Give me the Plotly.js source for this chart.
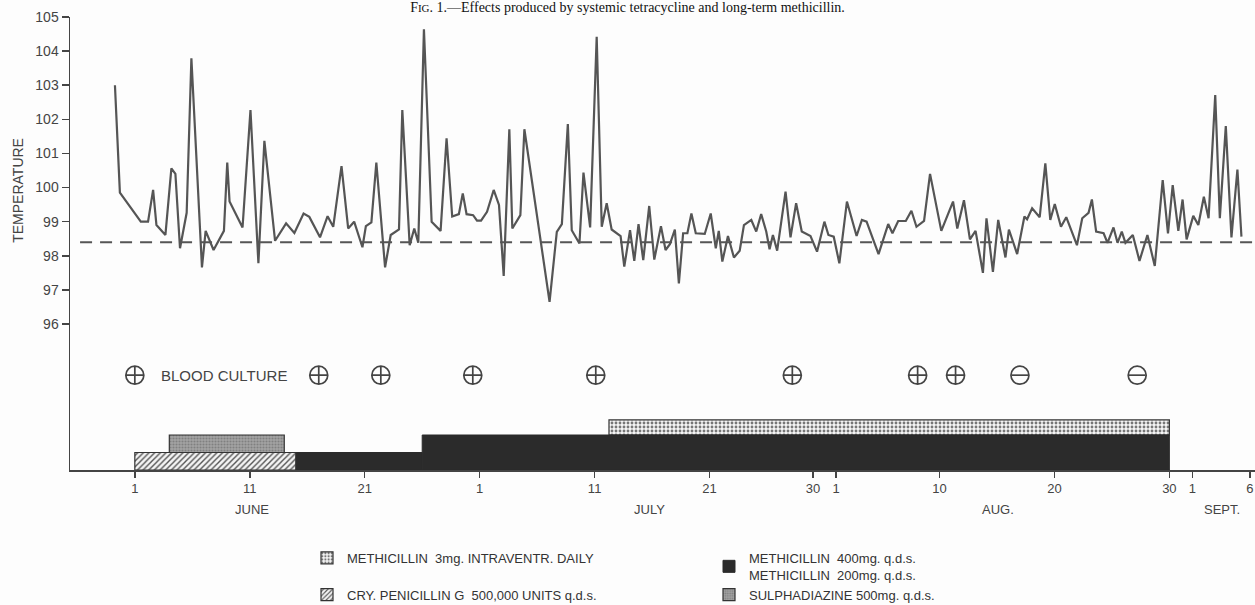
<!DOCTYPE html>
<html>
<head>
<meta charset="utf-8">
<script src="https://cdn.plot.ly/plotly-3.0.1.min.js"></script>
<style>html,body{margin:0;padding:0;background:#fdfdfd;}#chart{width:1255px;height:605px;}</style>
</head>
<body>
<div id="chart"></div>
<script>
// ---- DATA ----
// day number counted from 1 June (= 1); 1 July = 31, 1 Aug = 62, 1 Sept = 93
const days = [-0.73,-0.30,1.52,2.15,2.59,2.88,3.66,4.18,4.53,4.93,5.51,5.92,6.84,7.16,7.85,8.75,9.04,9.24,10.37,11.06,11.75,12.27,13.20,14.16,14.88,15.68,16.18,17.11,17.77,18.26,18.98,19.56,20.08,20.80,21.10,21.58,22.01,22.77,23.26,23.98,24.27,24.91,25.31,25.66,26.15,26.82,27.60,28.12,28.61,29.19,29.53,29.86,30.43,30.77,31.12,31.64,32.22,32.68,33.09,33.58,33.84,34.54,34.89,37.08,37.71,38.15,38.67,39.01,39.68,40.03,40.61,41.18,41.62,42.05,42.48,43.26,43.58,44.08,44.45,44.82,45.23,45.75,46.19,46.77,47.17,47.55,47.98,48.33,48.70,49.07,49.42,49.80,50.58,51.10,51.54,51.80,52.11,52.60,53.12,53.62,53.99,54.63,55.06,55.49,55.93,56.22,56.51,56.88,57.61,58.04,58.53,59.02,59.78,60.35,60.99,61.34,61.80,62.29,62.95,63.79,64.25,64.66,65.70,66.54,66.91,67.41,68.07,68.56,69.00,69.66,70.18,71.16,72.18,72.55,73.13,73.65,74.14,74.78,75.09,75.65,76.11,76.74,77.04,77.76,78.39,78.62,79.06,79.72,80.21,80.64,81.03,81.57,82.03,82.96,83.42,83.97,84.26,84.63,85.28,85.62,86.14,86.49,86.86,87.18,87.82,88.40,89.09,89.73,90.42,90.88,91.29,91.78,92.15,92.50,93.08,93.52,94.00,94.41,94.99,95.39,95.91,96.40,96.92,97.27];
const temperature = [103.0,99.85,99.0,99.0,99.93,98.9,98.61,100.56,100.4,98.22,99.26,103.79,97.66,98.73,98.17,98.73,100.73,99.59,98.83,102.27,97.78,101.37,98.44,98.95,98.67,99.24,99.14,98.54,99.16,98.85,100.63,98.8,99.0,98.25,98.87,98.98,100.73,97.66,98.61,98.77,102.27,98.31,98.8,98.38,104.64,99.0,98.73,101.44,99.15,99.22,99.83,99.22,99.19,99.03,99.03,99.29,99.93,99.49,97.41,101.71,98.8,99.19,101.71,96.65,98.7,98.93,101.86,98.75,98.36,100.44,98.83,104.42,98.85,99.54,98.77,98.58,97.68,98.75,97.85,98.93,97.87,99.46,97.89,98.87,98.17,98.34,98.77,97.19,98.66,98.66,99.24,98.66,98.64,99.24,98.22,98.73,97.83,98.58,97.95,98.15,98.90,99.05,98.71,99.22,98.71,98.19,98.61,98.15,99.88,98.54,99.54,98.71,98.58,98.12,99.0,98.61,98.56,97.78,99.59,98.58,99.05,99.0,98.05,98.93,98.66,99.02,99.02,99.32,98.85,99.02,100.40,98.73,99.59,98.80,99.63,98.48,98.73,97.5,99.1,97.53,99.05,97.95,98.77,98.05,99.15,99.07,99.39,99.13,100.71,99.05,99.52,98.85,99.13,98.31,99.1,99.26,99.65,98.71,98.66,98.38,98.83,98.38,98.71,98.38,98.61,97.85,98.61,97.7,100.22,98.66,100.07,98.73,99.65,98.48,99.17,98.90,99.73,99.1,102.71,99.1,101.8,98.54,100.53,98.56];
const normalTemperature = 98.4;

const cultureDays = [1, 17, 22.4, 30.4, 41.1, 58.2, 69.1, 72.4, 78, 88.2];
const cultureResults = ['+','+','+','+','+','+','+','+','-','-'];

const tickDays = [1, 11, 21, 31, 41, 51, 60, 62, 71, 81, 91, 93, 98];
const tickLabels = ['1','11','21','1','11','21','30','1','10','20','30','1','6'];
const monthNames = ['JUNE','JULY','AUG.','SEPT.'];
const monthLabelDays = [11.2, 45.8, 76.1, 95.6];
const tempTicks = [96,97,98,99,100,101,102,103,104,105];

// treatments: start day, end day
const intraStart = [42.25], intraEnd = [91];
const methStart = [15, 26], methEnd = [26, 91], methDose = [200, 400];
const penStart = [1], penEnd = [15];
const sulphaStart = [4], sulphaEnd = [14];

const treatmentNames = {
  intra: 'METHICILLIN  3mg. INTRAVENTR. DAILY',
  meth: 'METHICILLIN  400mg. q.d.s.<br>METHICILLIN  200mg. q.d.s.',
  pen: 'CRY. PENICILLIN G  500,000 UNITS q.d.s.',
  sulpha: 'SULPHADIAZINE 500mg. q.d.s.'
};

// ---- CHART ----
const ink = '#444';
const fontFam = 'Liberation Sans, Arial, sans-serif';
const dur = (s, e) => s.map((v, i) => e[i] - v);

const traces = [];
traces.push({
  type: 'bar', name: treatmentNames.intra, xaxis: 'x', yaxis: 'y2',
  x: intraStart, width: dur(intraStart, intraEnd), offset: 0,
  base: intraStart.map(() => 2), y: intraStart.map(() => 0.86),
  marker: {color: '#f2f2f2', line: {color: '#333', width: 1.2},
           pattern: {shape: '.', fgcolor: '#777', bgcolor: '#f6f6f6', size: 4, solidity: 0.4}},
  hoverinfo: 'skip'
});
traces.push({
  type: 'bar', name: treatmentNames.meth, xaxis: 'x', yaxis: 'y2',
  x: methStart, width: dur(methStart, methEnd), offset: 0,
  base: methStart.map(() => 0), y: methDose.map(d => d / 200),
  marker: {color: '#2b2b2b', line: {color: '#2b2b2b', width: 1}},
  hoverinfo: 'skip'
});
traces.push({
  type: 'bar', name: treatmentNames.pen, xaxis: 'x', yaxis: 'y2',
  x: penStart, width: dur(penStart, penEnd), offset: 0,
  base: penStart.map(() => 0), y: penStart.map(() => 1),
  marker: {color: '#f4f4f4', line: {color: '#333', width: 1.2},
           pattern: {shape: '/', fgcolor: '#555', bgcolor: '#f4f4f4', size: 4, solidity: 0.35}},
  hoverinfo: 'skip'
});
traces.push({
  type: 'bar', name: treatmentNames.sulpha, xaxis: 'x', yaxis: 'y2',
  x: sulphaStart, width: dur(sulphaStart, sulphaEnd), offset: 0,
  base: sulphaStart.map(() => 1), y: sulphaStart.map(() => 1),
  marker: {color: '#9c9c9c', line: {color: '#333', width: 1.2},
           pattern: {shape: '.', fgcolor: '#808080', bgcolor: '#a4a4a4', size: 3, solidity: 0.4}},
  hoverinfo: 'skip'
});
traces.push({
  type: 'scatter', mode: 'lines', x: days, y: temperature, showlegend: false,
  line: {color: '#555', width: 2.2}, hoverinfo: 'x+y'
});
const pos = cultureDays.filter((d, i) => cultureResults[i] === '+');
const neg = cultureDays.filter((d, i) => cultureResults[i] === '-');
const cultureY = 94.5;
traces.push({
  type: 'scatter', mode: 'markers', x: pos, y: pos.map(() => cultureY), showlegend: false,
  marker: {symbol: 'circle-cross-open', size: 18, color: ink, line: {color: ink, width: 1.7}}, hoverinfo: 'skip'
});
traces.push({
  type: 'scatter', mode: 'markers', x: neg, y: neg.map(() => cultureY), showlegend: false,
  marker: {symbol: 'circle-open', size: 18, color: ink, line: {color: ink, width: 1.7}}, hoverinfo: 'skip'
});
traces.push({
  type: 'scatter', mode: 'markers', x: neg, y: neg.map(() => cultureY), showlegend: false,
  marker: {symbol: 'line-ew-open', size: 12, color: ink, line: {color: ink, width: 1.7}}, hoverinfo: 'skip'
});

const annotations = [];
monthNames.forEach((m, i) => annotations.push({
  text: m, x: monthLabelDays[i], xref: 'x', y: -0.088, yref: 'paper',
  showarrow: false, xanchor: 'center', yanchor: 'middle',
  font: {family: fontFam, size: 13, color: ink}
}));
annotations.push({
  text: 'BLOOD CULTURE', x: 8.76, xref: 'x', y: cultureY, yref: 'y',
  showarrow: false, xanchor: 'center', yanchor: 'middle',
  font: {family: fontFam, size: 15, color: ink}
});
annotations.push({
  text: 'TEMPERATURE', x: -0.044, xref: 'paper', y: 99.93, yref: 'y',
  showarrow: false, textangle: -90, xanchor: 'center', yanchor: 'middle',
  font: {family: fontFam, size: 14, color: ink}
});

const layout = {
  width: 1255, height: 605,
  margin: {l: 70, r: 0, t: 17, b: 135, pad: 0, autoexpand: false},
  paper_bgcolor: '#fdfdfd', plot_bgcolor: '#fdfdfd',
  title: {
    text: 'F<span style="font-size:11px">IG</span>. 1.—Effects produced by systemic tetracycline and long-term methicillin.',
    font: {family: 'Liberation Serif, Times New Roman, serif', size: 14, color: '#111'},
    x: 0.5, xanchor: 'center', yref: 'container', y: 1, yanchor: 'top', pad: {t: 2}
  },
  barmode: 'overlay',
  showlegend: true,
  legend: {
    orientation: 'h', x: 0.2, xanchor: 'left', y: -0.161, yanchor: 'top',
    entrywidth: 357, entrywidthmode: 'pixels', traceorder: 'normal',
    bgcolor: 'rgba(0,0,0,0)', font: {family: fontFam, size: 13, color: '#333'}
  },
  xaxis: {
    range: [-4.64, 98.45], showgrid: false, zeroline: false,
    showline: true, linecolor: ink, linewidth: 1.5,
    ticks: 'outside', ticklen: 6, tickwidth: 1.5, tickcolor: ink,
    tickmode: 'array', tickvals: tickDays, ticktext: tickLabels,
    ticklabeloverflow: 'allow',
    tickfont: {family: fontFam, size: 13, color: ink}
  },
  yaxis: {
    range: [91.72, 105.0], showgrid: false, zeroline: false,
    showline: true, linecolor: ink, linewidth: 1.5,
    ticks: 'outside', ticklen: 7, tickwidth: 1.5, tickcolor: ink,
    tickmode: 'array', tickvals: tempTicks,
    tickfont: {family: fontFam, size: 14, color: ink}
  },
  yaxis2: {overlaying: 'y', range: [0, 25.89], visible: false, fixedrange: true},
  shapes: [{
    type: 'line', xref: 'paper', x0: 0.0085, x1: 1, yref: 'y', y0: normalTemperature, y1: normalTemperature,
    line: {color: '#555', width: 2, dash: '12px,8px'}
  }],
  annotations: annotations
};

Plotly.newPlot('chart', traces, layout, {displayModeBar: false, staticPlot: true});
</script>
</body>
</html>
